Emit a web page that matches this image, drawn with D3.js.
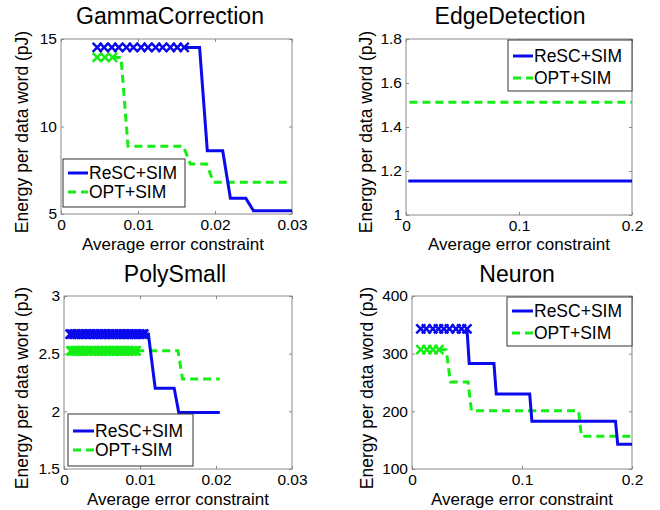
<!DOCTYPE html>
<html><head><meta charset="utf-8">
<script src="https://cdn.jsdelivr.net/npm/d3@7"></script>
<style>body{margin:0;background:#fff}svg{display:block;font-family:"Liberation Sans",Arial,sans-serif}</style>
</head><body><svg id="c" width="660" height="510"></svg>
<script>
// ---------- data ----------
const seriesNames = ["ReSC+SIM", "OPT+SIM"];
const titles = ["GammaCorrection", "EdgeDetection", "PolySmall", "Neuron"];
const xAxisLabel = "Average error constraint";
const yAxisLabel = "Energy per data word (pJ)";

// GammaCorrection
const gammaXTicks = [0, 0.01, 0.02, 0.03], gammaXTickLabels = ["0", "0.01", "0.02", "0.03"];
const gammaYTicks = [5, 10, 15], gammaYTickLabels = ["5", "10", "15"];
const gammaRescMarkX = [0.0047,0.0056,0.0066,0.0075,0.0085,0.0094,0.0104,0.0113,0.0123,0.0132,0.0142,0.0151,0.0160];
const gammaRescMarkY = 14.52;
const gammaRescX = [0.0160,0.0180,0.0190,0.0210,0.0220,0.0240,0.0250,0.0300];
const gammaRescY = [14.52,14.52,8.62,8.62,5.9,5.9,5.18,5.18];
const gammaOptMarkX = [0.0047,0.0057,0.0067];
const gammaOptMarkY = 13.95;
const gammaOptX = [0.0067,0.0078,0.0087,0.0159,0.0168,0.0189,0.0198,0.0300];
const gammaOptY = [13.95,13.95,8.87,8.87,7.86,7.86,6.82,6.82];

// EdgeDetection
const edgeXTicks = [0, 0.1, 0.2], edgeXTickLabels = ["0", "0.1", "0.2"];
const edgeYTicks = [1, 1.2, 1.4, 1.6, 1.8], edgeYTickLabels = ["1", "1.2", "1.4", "1.6", "1.8"];
const edgeRescMarkX = [], edgeRescMarkY = 1.155;
const edgeRescX = [0.002, 0.2], edgeRescY = [1.155, 1.155];
const edgeOptMarkX = [], edgeOptMarkY = 1.512;
const edgeOptX = [0.003, 0.2], edgeOptY = [1.512, 1.512];

// PolySmall
const polyXTicks = [0, 0.01, 0.02, 0.03], polyXTickLabels = ["0", "0.01", "0.02", "0.03"];
const polyYTicks = [1.5, 2, 2.5, 3], polyYTickLabels = ["1.5", "2", "2.5", "3"];
const polyRescMarkX = [0.0008,0.0010,0.0013,0.0015,0.0018,0.0020,0.0023,0.0025,0.0028,0.0030,0.0033,0.0035,0.0038,0.0040,0.0043,0.0045,0.0048,0.0050,0.0053,0.0055,0.0058,0.0060,0.0063,0.0065,0.0068,0.0070,0.0073,0.0075,0.0078,0.0080,0.0083,0.0085,0.0088,0.0090,0.0093,0.0095,0.0098,0.0100,0.0103,0.0105];
const polyRescMarkY = 2.67;
const polyRescX = [0.0105,0.0111,0.0120,0.0145,0.0151,0.0205];
const polyRescY = [2.67,2.67,2.20,2.20,1.99,1.99];
const polyOptMarkX = [0.0009,0.0011,0.0014,0.0016,0.0019,0.0021,0.0024,0.0026,0.0029,0.0031,0.0034,0.0036,0.0039,0.0041,0.0044,0.0046,0.0049,0.0051,0.0054,0.0056,0.0059,0.0061,0.0064,0.0066,0.0069,0.0071,0.0074,0.0076,0.0079,0.0081,0.0084,0.0086,0.0089,0.0091,0.0094,0.0095];
const polyOptMarkY = 2.525;
const polyOptX = [0.0095,0.0150,0.0156,0.0205];
const polyOptY = [2.525,2.525,2.28,2.28];

// Neuron
const neuronXTicks = [0, 0.1, 0.2], neuronXTickLabels = ["0", "0.1", "0.2"];
const neuronYTicks = [100, 200, 300, 400], neuronYTickLabels = ["100", "200", "300", "400"];
const neuronRescMarkX = [0.008,0.013,0.019,0.024,0.029,0.034,0.040,0.045,0.050];
const neuronRescMarkY = 343;
const neuronRescX = [0.050,0.052,0.0745,0.0766,0.107,0.109,0.185,0.187,0.2];
const neuronRescY = [343,283,283,230,230,183,183,143,143];
const neuronOptMarkX = [0.008,0.0135,0.019,0.0245];
const neuronOptMarkY = 307;
const neuronOptX = [0.0245,0.031,0.035,0.051,0.054,0.1514,0.154,0.2];
const neuronOptY = [307,307,251,251,201,201,157,157];

// ---------- layout / style ----------
const BLUE = "#0a0aec", GREEN = "#14ee14";
const panels = [
  {title: titles[0], xd:[0,0.03], yd:[5,15], xt:gammaXTicks, xl:gammaXTickLabels, yt:gammaYTicks, yl:gammaYTickLabels,
   rm:gammaRescMarkX, rmy:gammaRescMarkY, rx:gammaRescX, ry:gammaRescY, om:gammaOptMarkX, omy:gammaOptMarkY, ox:gammaOptX, oy:gammaOptY,
   box:[61,292,39,214], tx:170, ty:24, xlx:173, xly:249.5, ylx:22, yly:132, leg:{x:63,y:159,w:122,h:48,l1:173,l2:192,lx0:68,lx1:88}},
  {title: titles[1], xd:[0,0.2], yd:[1,1.8], xt:edgeXTicks, xl:edgeXTickLabels, yt:edgeYTicks, yl:edgeYTickLabels,
   rm:edgeRescMarkX, rmy:edgeRescMarkY, rx:edgeRescX, ry:edgeRescY, om:edgeOptMarkX, omy:edgeOptMarkY, ox:edgeOptX, oy:edgeOptY,
   box:[406,632,39,215], tx:510, ty:24, xlx:519, xly:249.5, ylx:366, yly:132, leg:{x:508,y:40,w:124,h:51,l1:56,l2:78,lx0:513,lx1:533}},
  {title: titles[2], xd:[0,0.03], yd:[1.5,3], xt:polyXTicks, xl:polyXTickLabels, yt:polyYTicks, yl:polyYTickLabels,
   rm:polyRescMarkX, rmy:polyRescMarkY, rx:polyRescX, ry:polyRescY, om:polyOptMarkX, omy:polyOptMarkY, ox:polyOptX, oy:polyOptY,
   box:[64,292,296,469], tx:175, ty:282, xlx:178, xly:504.5, ylx:22, yly:388, leg:{x:68,y:414,w:125,h:52,l1:431,l2:450,lx0:73,lx1:94}},
  {title: titles[3], xd:[0,0.2], yd:[100,400], xt:neuronXTicks, xl:neuronXTickLabels, yt:neuronYTicks, yl:neuronYTickLabels,
   rm:neuronRescMarkX, rmy:neuronRescMarkY, rx:neuronRescX, ry:neuronRescY, om:neuronOptMarkX, omy:neuronOptMarkY, ox:neuronOptX, oy:neuronOptY,
   box:[412,632,296,469], tx:517, ty:282, xlx:522, xly:504.5, ylx:367, yly:388, leg:{x:507,y:297,w:125,h:49,l1:311,l2:333,lx0:512,lx1:533}}
];

const svg = d3.select("#c");
const marker = d3.symbol(d3.symbolTimes).size(55);

panels.forEach(p => {
  const [x0, x1, y0, y1] = p.box;
  const x = d3.scaleLinear().domain(p.xd).range([x0, x1]);
  const y = d3.scaleLinear().domain(p.yd).range([y1, y0]);
  const g = svg.append("g");

  // box
  g.append("rect").attr("x", x0).attr("y", y0).attr("width", x1 - x0).attr("height", y1 - y0)
    .attr("fill", "#fff").attr("stroke", "#8a8a8a").attr("stroke-width", 1);

  const styleAxis = sel => {
    sel.select(".domain").remove();
    sel.selectAll(".tick line").attr("stroke", "#8a8a8a");
    sel.selectAll(".tick text").attr("fill", "#000").style("font-size", "15.5px").style("font-family", "Liberation Sans, Arial, sans-serif");
  };
  g.append("g").attr("transform", `translate(0,${y1})`)
    .call(d3.axisBottom(x).tickValues(p.xt).tickFormat((d, i) => p.xl[i]).tickSizeInner(-3).tickSizeOuter(0).tickPadding(5))
    .call(styleAxis);
  g.append("g").attr("transform", `translate(0,${y0})`)
    .call(d3.axisTop(x).tickValues(p.xt).tickFormat("").tickSizeInner(-3).tickSizeOuter(0))
    .call(styleAxis);
  g.append("g").attr("transform", `translate(${x0},0)`)
    .call(d3.axisLeft(y).tickValues(p.yt).tickFormat((d, i) => p.yl[i]).tickSizeInner(-3).tickSizeOuter(0).tickPadding(4))
    .call(styleAxis);
  g.append("g").attr("transform", `translate(${x1},0)`)
    .call(d3.axisRight(y).tickValues(p.yt).tickFormat("").tickSizeInner(-3).tickSizeOuter(0))
    .call(styleAxis);

  const line = d3.line().x(d => x(d[0])).y(d => y(d[1]));
  // OPT line (green dashed)
  g.append("path").datum(p.ox.map((v, i) => [v, p.oy[i]])).attr("d", line)
    .attr("fill", "none").attr("stroke", GREEN).attr("stroke-width", 3).attr("stroke-dasharray", "8,5");
  // ReSC line (blue solid)
  g.append("path").datum(p.rx.map((v, i) => [v, p.ry[i]])).attr("d", line)
    .attr("fill", "none").attr("stroke", BLUE).attr("stroke-width", 3);
  // markers
  g.selectAll(null).data(p.om).enter().append("path").attr("d", marker)
    .attr("transform", d => `translate(${x(d)},${y(p.omy)})`).attr("fill", "none").attr("stroke", GREEN).attr("stroke-width", 2.5);
  g.selectAll(null).data(p.rm).enter().append("path").attr("d", marker)
    .attr("transform", d => `translate(${x(d)},${y(p.rmy)})`).attr("fill", "none").attr("stroke", BLUE).attr("stroke-width", 2.5);

  // title & labels
  g.append("text").attr("x", p.tx).attr("y", p.ty).attr("text-anchor", "middle").style("font-size", "23px").text(p.title);
  g.append("text").attr("x", p.xlx).attr("y", p.xly).attr("text-anchor", "middle").style("font-size", "17px").text(xAxisLabel);
  g.append("text").attr("transform", `translate(${p.ylx},${p.yly}) rotate(-90)`).attr("text-anchor", "middle")
    .attr("dy", "0.35em").style("font-size", "17.5px").text(yAxisLabel);

  // legend
  const L = p.leg;
  g.append("rect").attr("x", L.x).attr("y", L.y).attr("width", L.w).attr("height", L.h)
    .attr("fill", "#fff").attr("stroke", "#333").attr("stroke-width", 1);
  [[L.l1, BLUE, null], [L.l2, GREEN, "8,5"]].forEach(([ly, col, dash], i) => {
    g.append("line").attr("x1", L.lx0).attr("x2", L.lx1).attr("y1", ly).attr("y2", ly)
      .attr("stroke", col).attr("stroke-width", 3).attr("stroke-dasharray", dash);
    g.append("text").attr("x", L.lx1 + 1).attr("y", ly).attr("dy", "0.35em").style("font-size", "17.5px").text(seriesNames[i]);
  });
});
</script></body></html>
